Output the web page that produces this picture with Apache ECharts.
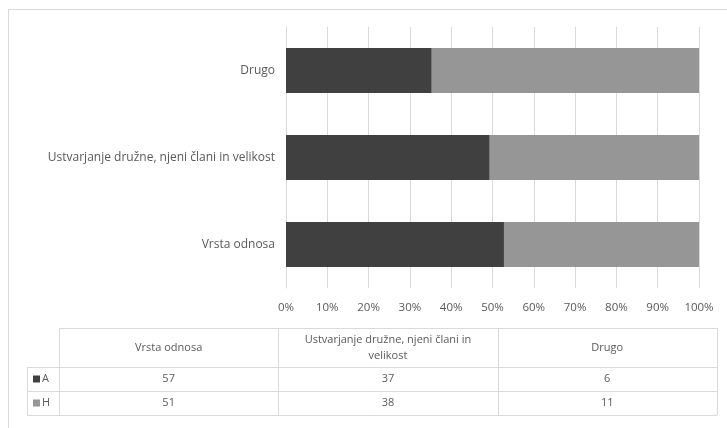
<!DOCTYPE html>
<html>
<head>
<meta charset="utf-8">
<script src="https://cdn.jsdelivr.net/npm/echarts@6/dist/echarts.min.js"></script>
<style>
  html, body { margin: 0; padding: 0; background: #fff; }
  #chart { width: 727px; height: 428px; }
</style>
</head>
<body>
<div id="chart"></div>
<script>
// data
var categories = ['Vrsta odnosa', 'Ustvarjanje družne, njeni člani in velikost', 'Drugo'];
var headerLabels = ['Vrsta odnosa', 'Ustvarjanje družne, njeni člani in\nvelikost', 'Drugo'];
var seriesNames = ['A', 'H'];
var valuesA = [57, 37, 6];
var valuesH = [51, 38, 11];
var seriesColors = ['#404040', '#969696'];

function share(v, i) {
    return v / (valuesA[i] + valuesH[i]) * 100;
}

var chart = echarts.init(document.getElementById('chart'));
var FONT = 'Open Sans';
var TXT = '#595959';
var LINE = '#d9d9d9';

// data table under the chart
var tableLeft = 27, legendW = 32, colW = 219.3;
var rowTops = [328, 367, 391, 415];
var graphics = [];

graphics.push({
    type: 'rect', silent: true,
    shape: { x: 8.5, y: 9.5, width: 740, height: 440 },
    style: { fill: null, stroke: LINE, lineWidth: 1 }
});

var tableRight = tableLeft + legendW + colW * categories.length;
// horizontal lines
rowTops.forEach(function (y, r) {
    graphics.push({
        type: 'line', silent: true,
        shape: { x1: r === 0 ? tableLeft + legendW : tableLeft, y1: y + 0.5, x2: tableRight, y2: y + 0.5 },
        style: { stroke: LINE, lineWidth: 1 }
    });
});
// vertical lines
graphics.push({
    type: 'line', silent: true,
    shape: { x1: tableLeft + 0.5, y1: rowTops[1], x2: tableLeft + 0.5, y2: rowTops[3] },
    style: { stroke: LINE, lineWidth: 1 }
});
for (var c = 0; c <= categories.length; c++) {
    var x = Math.round(tableLeft + legendW + colW * c) + 0.5;
    graphics.push({
        type: 'line', silent: true,
        shape: { x1: x, y1: rowTops[0], x2: x, y2: rowTops[3] },
        style: { stroke: LINE, lineWidth: 1 }
    });
}
// header texts
headerLabels.forEach(function (lab, i) {
    graphics.push({
        type: 'text', silent: true,
        x: tableLeft + legendW + colW * (i + 0.5),
        y: (rowTops[0] + rowTops[1]) / 2,
        style: {
            text: lab, fill: TXT, font: '11px "' + FONT + '"',
            align: 'center', verticalAlign: 'middle', lineHeight: 16
        }
    });
});
// rows
[valuesA, valuesH].forEach(function (vals, r) {
    var cy = (rowTops[r + 1] + rowTops[r + 2]) / 2;
    graphics.push({
        type: 'rect', silent: true,
        shape: { x: tableLeft + 6, y: cy - 3.5, width: 7, height: 7 },
        style: { fill: seriesColors[r] }
    });
    graphics.push({
        type: 'text', silent: true,
        x: tableLeft + 15, y: cy,
        style: { text: seriesNames[r], fill: TXT, font: '11px "' + FONT + '"', verticalAlign: 'middle' }
    });
    vals.forEach(function (v, i) {
        graphics.push({
            type: 'text', silent: true,
            x: tableLeft + legendW + colW * (i + 0.5), y: cy,
            style: { text: String(v), fill: TXT, font: '11px "' + FONT + '"', align: 'center', verticalAlign: 'middle' }
        });
    });
});

var option = {
    animation: false,
    textStyle: { fontFamily: FONT },
    grid: { left: 286, right: 28, top: 27, bottom: 140, containLabel: false },
    xAxis: {
        type: 'value', min: 0, max: 100, interval: 10,
        axisLine: { show: false },
        axisTick: { show: false },
        axisLabel: { formatter: '{value}%', color: TXT, fontSize: 11.5, margin: 14 },
        splitLine: { show: true, lineStyle: { color: LINE, width: 1 } }
    },
    yAxis: {
        type: 'category', data: categories,
        axisLine: { show: true, lineStyle: { color: LINE } },
        axisTick: { show: false },
        axisLabel: { color: TXT, fontSize: 12, margin: 11 }
    },
    series: [
        {
            name: seriesNames[0], type: 'bar', stack: 'total',
            barCategoryGap: '48%',
            itemStyle: { color: seriesColors[0] },
            data: valuesA.map(share)
        },
        {
            name: seriesNames[1], type: 'bar', stack: 'total',
            barCategoryGap: '48%',
            itemStyle: { color: seriesColors[1] },
            data: valuesH.map(share)
        }
    ],
    graphic: graphics
};

chart.setOption(option);
</script>
</body>
</html>
